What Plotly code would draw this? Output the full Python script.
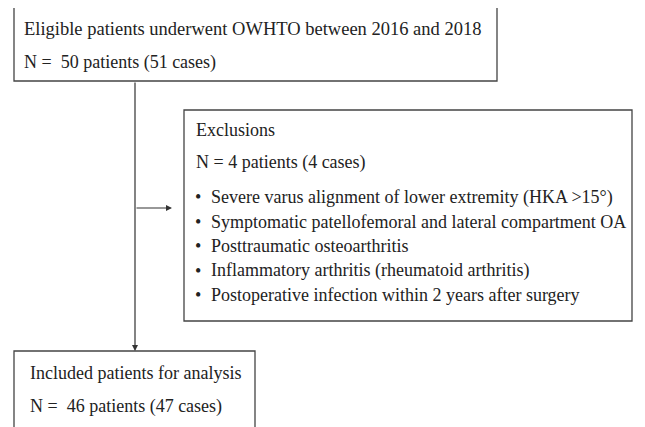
import plotly.graph_objects as go

W, H = 645, 427
OFF = 8  # page body margin

top_lines = ["Eligible patients underwent OWHTO between 2016 and 2018",
             "N =  50 patients (51 cases)"]
excl_title = ["Exclusions", "N = 4 patients (4 cases)"]
excl_items = ["Severe varus alignment of lower extremity (HKA >15°)",
              "Symptomatic patellofemoral and lateral compartment OA",
              "Posttraumatic osteoarthritis",
              "Inflammatory arthritis (rheumatoid arthritis)",
              "Postoperative infection within 2 years after surgery"]
bottom_lines = ["Included patients for analysis",
                "N =  46 patients (47 cases)"]

FONT = "Liberation Serif"
FS = 18
COL = "#222222"
LC = "#444444"

fig = go.Figure()
fig.add_trace(go.Scatter(x=[0, W], y=[0, H], mode="markers", marker=dict(opacity=0), hoverinfo="skip", showlegend=False))

def box(x0, y0, x1, y1):
    fig.add_shape(type="rect", x0=x0, y0=y0, x1=x1, y1=y1, xref="x", yref="y",
                  line=dict(color=LC, width=1.3), fillcolor="rgba(0,0,0,0)")

def text(x, y, s, size=FS):
    fig.add_annotation(x=x, y=y, text=s, xref="x", yref="y", showarrow=False,
                       xanchor="left", yanchor="middle",
                       font=dict(family=FONT, size=size, color=COL))

box(14, 5, 497, 81)
box(184, 110, 632, 321)
box(14, 351, 255, 440)

for i, s in enumerate(top_lines):
    text(22, 29 + i * 33, s, FS + 0.5 if i == 0 else FS)
for i, s in enumerate(excl_title):
    text(194, 130 + i * 32, s)
for i, s in enumerate(excl_items):
    y = 197 + i * 24.5
    text(193, y, "•")
    text(209, y, s)
for i, s in enumerate(bottom_lines):
    text(28, 373 + i * 33, s)

# vertical line with arrow
fig.add_annotation(x=135, y=351, ax=135, ay=81, xref="x", yref="y", axref="x", ayref="y",
                   showarrow=True, arrowhead=2, arrowsize=1, arrowwidth=1.2, arrowcolor="#333333", text="")
# horizontal arrow
fig.add_annotation(x=172, y=208, ax=135, ay=208, xref="x", yref="y", axref="x", ayref="y",
                   showarrow=True, arrowhead=2, arrowsize=1, arrowwidth=1.2, arrowcolor="#333333", text="")

fig.update_layout(width=W, height=H, margin=dict(l=0, r=0, t=0, b=0),
                  paper_bgcolor="white", plot_bgcolor="white",
                  xaxis=dict(range=[OFF, W + OFF], visible=False, fixedrange=True),
                  yaxis=dict(range=[H + OFF, OFF], visible=False, fixedrange=True),
                  showlegend=False)
fig.write_html("out.html")
